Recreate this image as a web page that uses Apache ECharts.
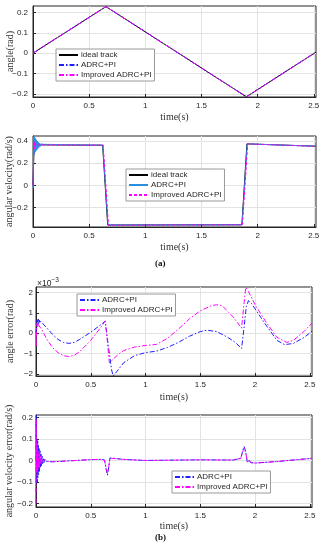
<!DOCTYPE html>
<html>
<head>
<meta charset="utf-8">
<script src="https://cdn.jsdelivr.net/npm/echarts@6/dist/echarts.min.js"></script>
<style>
html,body{margin:0;padding:0;background:#fff;}
#c{width:323px;height:550px;}
</style>
</head>
<body>
<div id="c"></div>
<script>
// ---- tick labels ----
const timeTicks = [0, 0.5, 1, 1.5, 2, 2.5];
const angleTicks = [-0.2, -0.1, 0, 0.1, 0.2];
const velTicks = [-0.2, 0, 0.2, 0.4];
const angErrTicks = [-2, -1, 0, 1, 2];
const velErrTicks = [-0.2, -0.1, 0, 0.1, 0.2];

// ---- series names ----
const nameIdeal = 'ideal track';
const nameADRC = 'ADRC+PI';
const nameImp = 'Improved ADRC+PI';

// ---- panel (a) top: angle (rad) [time, value] ----
const angleIdeal = [[0, 0], [0.65, 0.229], [1.9, -0.215], [2.52, 0.005]];
const angleADRC = [[0, 0], [0.65, 0.229], [1.9, -0.215], [2.52, 0.005]];
const angleImproved = [[0, 0], [0.65, 0.229], [1.9, -0.215], [2.52, 0.005]];

// ---- panel (a) bottom: angular velocity (rad/s) ----
const velIdeal = [[0, 0], [0.01, 0.365], [0.62, 0.362], [0.665, -0.358], [1.86, -0.356], [1.905, 0.374], [2.52, 0.353]];
const velADRC = [[0, 0], [0.002, -0.02], [0.004, 0.2], [0.006, 0.44], [0.008, 0.27], [0.011, 0.44], [0.014, 0.29],
  [0.017, 0.43], [0.02, 0.3], [0.023, 0.42], [0.026, 0.31], [0.03, 0.41], [0.034, 0.32], [0.038, 0.4],
  [0.042, 0.33], [0.047, 0.39], [0.052, 0.34], [0.058, 0.38], [0.064, 0.35], [0.07, 0.375], [0.08, 0.36],
  [0.09, 0.37], [0.1, 0.365], [0.622, 0.362], [0.668, -0.358], [1.862, -0.356], [1.908, 0.374], [2.52, 0.353]];
const velImproved = [[0, 0], [0.003, -0.01], [0.006, 0.3], [0.009, 0.4], [0.012, 0.33], [0.015, 0.39],
  [0.018, 0.35], [0.022, 0.38], [0.027, 0.36], [0.035, 0.37], [0.05, 0.365], [0.1, 0.365], [0.625, 0.362],
  [0.672, -0.36], [1.865, -0.356], [1.912, 0.374], [2.52, 0.351]];

// ---- panel (b) top: angle error (x1e-3 rad) ----
const errADRC = [[0, 0], [0.005, 0.3], [0.01, 0.65], [0.015, 0.4], [0.02, 0.7], [0.025, 0.45], [0.03, 0.65],
  [0.035, 0.5], [0.04, 0.6], [0.05, 0.52], [0.1, 0.25], [0.15, -0.05], [0.2, -0.3], [0.25, -0.45], [0.3, -0.5],
  [0.35, -0.45], [0.4, -0.3], [0.5, 0.05], [0.6, 0.45], [0.632, 0.6], [0.66, -0.6], [0.69, -1.8], [0.705, -2.1],
  [0.72, -2.05], [0.75, -1.8], [0.8, -1.45], [0.9, -1.1], [1.0, -0.95], [1.1, -0.88], [1.2, -0.7], [1.3, -0.45],
  [1.4, -0.15], [1.5, 0.08], [1.56, 0.15], [1.65, 0.08], [1.75, -0.2], [1.82, -0.45], [1.877, -0.75], [1.9, 0.3],
  [1.92, 1.3], [1.94, 1.6], [1.97, 1.45], [2.0, 1.2], [2.1, 0.4], [2.2, -0.35], [2.27, -0.56], [2.35, -0.5],
  [2.45, -0.2], [2.52, 0.1]];
const errImproved = [[0, 0], [0.002, -0.6], [0.005, 0.2], [0.01, 0.5], [0.015, 0.3], [0.02, 0.45], [0.03, 0.35],
  [0.05, 0.2], [0.1, -0.3], [0.15, -0.7], [0.2, -0.95], [0.25, -1.1], [0.3, -1.15], [0.35, -1.08], [0.4, -0.9],
  [0.5, -0.35], [0.6, 0.35], [0.632, 0.6], [0.65, -0.3], [0.67, -1.45], [0.7, -1.3], [0.75, -1.05], [0.8, -0.85],
  [0.9, -0.68], [1.0, -0.6], [1.1, -0.55], [1.2, -0.25], [1.3, 0.2], [1.4, 0.7], [1.5, 1.1], [1.6, 1.35],
  [1.65, 1.4], [1.7, 1.35], [1.8, 0.8], [1.877, 0.25], [1.9, 1.5], [1.915, 2.25], [1.94, 2.05], [2.0, 1.4],
  [2.1, 0.55], [2.2, -0.2], [2.29, -0.45], [2.35, -0.35], [2.45, 0.1], [2.52, 0.5]];

// ---- panel (b) bottom: angular velocity error (rad/s) ----
const vErrADRC = [[0, 0], [0.003, 0.21], [0.006, -0.11], [0.009, 0.1], [0.012, -0.1], [0.015, 0.09], [0.018, -0.08],
  [0.021, 0.075], [0.024, -0.065], [0.028, 0.055], [0.032, -0.05], [0.036, 0.045], [0.04, -0.035], [0.045, 0.03],
  [0.05, -0.025], [0.055, 0.02], [0.06, -0.015], [0.066, 0.012], [0.072, -0.01], [0.08, 0.006], [0.09, -0.004],
  [0.1, -0.004], [0.15, -0.006], [0.3, -0.002], [0.5, 0.004], [0.6, 0.005], [0.625, 0.002], [0.64, -0.04],
  [0.652, -0.068], [0.665, -0.03], [0.675, 0.012], [0.69, 0.006], [0.8, 0.005], [1.0, 0.0], [1.5, 0.003],
  [1.8, 0.002], [1.87, 0.01], [1.89, 0.05], [1.9, 0.065], [1.915, 0.04], [1.93, -0.01], [1.945, 0.003],
  [1.96, -0.01], [2.0, -0.012], [2.2, -0.005], [2.52, 0.01]];
const vErrImproved = [[0, -0.2], [0.002, 0.19], [0.004, -0.05], [0.007, 0.08], [0.01, -0.07], [0.013, 0.06],
  [0.016, -0.05], [0.02, 0.04], [0.024, -0.035], [0.028, 0.03], [0.033, -0.025], [0.038, 0.02], [0.044, -0.015],
  [0.05, 0.01], [0.06, -0.008], [0.07, 0.004], [0.08, -0.005], [0.1, -0.005], [0.15, -0.006], [0.3, -0.002],
  [0.5, 0.004], [0.6, 0.005], [0.625, 0.002], [0.64, -0.035], [0.652, -0.06], [0.665, -0.025], [0.675, 0.01],
  [0.69, 0.005], [0.8, 0.005], [1.0, 0.0], [1.5, 0.003], [1.8, 0.002], [1.87, 0.01], [1.89, 0.045], [1.9, 0.058],
  [1.915, 0.035], [1.93, -0.008], [1.945, 0.002], [1.96, -0.01], [2.0, -0.012], [2.2, -0.005], [2.52, 0.01]];

const BLACK = '#000000', BLUE = '#1f1fff', LBLUE = '#2b8fe0', MAG = '#ff00ff';
const DASHDOT = [5, 2, 1.5, 2];
const serif = '"Liberation Serif", "DejaVu Serif", serif';
const sans = '"Liberation Sans", Arial, sans-serif';
const fmt = v => String(+v.toFixed(4)).replace('-', '\u2212');

const grids = [
  {left: 33, right: 7, top: 6, height: 91},
  {left: 33, right: 7, top: 136, height: 91},
  {left: 36, right: 11, top: 287, height: 89},
  {left: 36, right: 11, top: 415, height: 92}
];

function xAx(i, gap) {
  return {
    type: 'value', gridIndex: i, min: 0, max: 2.52,
    name: 'time(s)', nameLocation: 'middle', nameGap: gap, nameMoveOverlap: false,
    nameTextStyle: {fontFamily: serif, fontSize: 10, color: '#333', verticalAlign: 'top'},
    axisLine: {show: true, onZero: false, lineStyle: {color: '#262626', width: 1}},
    axisTick: {show: true, inside: true, length: 3, customValues: timeTicks, lineStyle: {color: '#262626'}},
    axisLabel: {customValues: timeTicks, formatter: fmt, fontFamily: sans, fontSize: 8, color: '#262626', margin: 5},
    splitLine: {show: true, lineStyle: {color: '#e3e3e3', width: 1}}
  };
}
function yAx(i, name, min, max, ticks, gap, margin) {
  return {
    type: 'value', gridIndex: i, min: min, max: max,
    name: name, nameLocation: 'middle', nameGap: gap, nameMoveOverlap: false,
    nameTextStyle: {fontFamily: serif, fontSize: 10, color: '#333'},
    axisLine: {show: true, onZero: false, lineStyle: {color: '#262626', width: 1}},
    axisTick: {show: true, inside: true, length: 3, customValues: ticks, lineStyle: {color: '#262626'}},
    axisLabel: {customValues: ticks, formatter: fmt, fontFamily: sans, fontSize: 8, color: '#262626', margin: margin},
    splitLine: {show: true, lineStyle: {color: '#e3e3e3', width: 1}}
  };
}
function line(name, idx, data, color, type, z) {
  return {
    name: name, type: 'line', xAxisIndex: idx, yAxisIndex: idx, data: data,
    showSymbol: false, symbol: 'none', animation: false, z: z || 2,
    lineStyle: {color: color, width: 1, type: type},
    itemStyle: {color: color}
  };
}
function legend(names, left, top) {
  return {
    data: names, orient: 'vertical', left: left, top: top,
    backgroundColor: '#fff', borderColor: '#9a9a9a', borderWidth: 1,
    padding: [2, 3, 2, 2], itemGap: 2, itemWidth: 19, itemHeight: 9,
    itemStyle: {opacity: 0},
    textStyle: {fontFamily: sans, fontSize: 8, color: '#262626', padding: [0, 0, 0, -2]},
    formatter: n => n.split('#')[0], selectedMode: false
  };
}

const option = {
  animation: false,
  backgroundColor: '#fff',
  grid: grids.map(g => Object.assign({show: true, borderColor: '#262626', borderWidth: 1, backgroundColor: '#fff',
    containLabel: false, outerBoundsMode: 'none'}, g)),
  xAxis: [xAx(0, 15), xAx(1, 15), xAx(2, 16), xAx(3, 14)],
  yAxis: [
    yAx(0, 'angle(rad)', -0.216, 0.232, angleTicks, 18, 5),
    yAx(1, 'angular velocity(rad/s)', -0.376, 0.445, velTicks, 19, 5),
    yAx(2, 'angle error(rad)', -2.1, 2.27, angErrTicks, 21, 3),
    yAx(3, 'angular velocity error(rad/s)', -0.216, 0.211, velErrTicks, 22, 3)
  ],
  legend: [
    legend([nameIdeal + '#1', nameADRC + '#1', nameImp + '#1'], 56, 49),
    legend([nameIdeal + '#2', nameADRC + '#2', nameImp + '#2'], 126, 169),
    legend([nameADRC + '#3', nameImp + '#3'], 77, 294),
    legend([nameADRC + '#4', nameImp + '#4'], 172, 471)
  ],
  graphic: [
    {type: 'text', left: 155, top: 259, style: {text: '(a)', font: 'bold 9px ' + serif, fill: '#111'}},
    {type: 'text', left: 155, top: 533, style: {text: '(b)', font: 'bold 9px ' + serif, fill: '#111'}},
    {type: 'text', left: 37, top: 277, style: {
      text: '{a|\u00d710}{b|\u22123}',
      rich: {a: {fontFamily: sans, fontSize: 8.5, fill: '#262626', color: '#262626'},
             b: {fontFamily: sans, fontSize: 6.5, fill: '#262626', color: '#262626', verticalAlign: 'top', padding: [0, 0, 6, 0]}}
    }}
  ],
  series: [
    line(nameIdeal + '#1', 0, angleIdeal, BLACK, 'solid', 2),
    line(nameADRC + '#1', 0, angleADRC, BLUE, DASHDOT, 3),
    line(nameImp + '#1', 0, angleImproved, MAG, DASHDOT, 4),
    line(nameIdeal + '#2', 1, velIdeal, BLACK, 'solid', 2),
    line(nameADRC + '#2', 1, velADRC, LBLUE, 'solid', 3),
    line(nameImp + '#2', 1, velImproved, MAG, [3, 2], 4),
    line(nameADRC + '#3', 2, errADRC, BLUE, DASHDOT, 3),
    line(nameImp + '#3', 2, errImproved, MAG, DASHDOT, 4),
    line(nameADRC + '#4', 3, vErrADRC, BLUE, DASHDOT, 3),
    line(nameImp + '#4', 3, vErrImproved, MAG, DASHDOT, 4)
  ]
};
const chart = echarts.init(document.getElementById('c'), null, {renderer: 'canvas'});
chart.setOption(option);
</script>
</body>
</html>
